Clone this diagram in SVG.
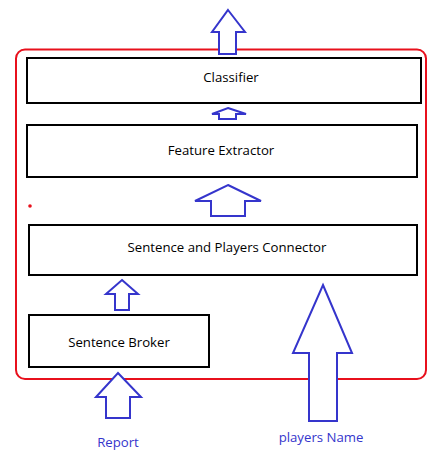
<svg xmlns="http://www.w3.org/2000/svg" width="436" height="453" viewBox="0 0 436 453">
<style>
.box{fill:#fff;stroke:#000;stroke-width:2}
.arr{fill:#fff;stroke:#3535cc;stroke-width:2;stroke-linejoin:miter}
.lbl{font-family:"Open Sans","Noto Sans",sans-serif;font-size:13.2px;fill:#000;text-anchor:middle}
.blue{font-family:"Open Sans","Noto Sans",sans-serif;font-size:13.2px;fill:#3535cc;text-anchor:middle}
</style>
<rect width="436" height="453" fill="#fff"/>
<rect id="container" x="16" y="49.5" width="410" height="329.5" rx="9" fill="none" stroke="#e8101c" stroke-width="2"/>
<circle cx="30" cy="206" r="1.8" fill="#e8101c"/>
<g id="classifier"><rect class="box" x="27" y="58" width="394" height="45"/><text class="lbl" x="231" y="81.5">Classifier</text></g>
<g id="feature-extractor"><rect class="box" x="27" y="125" width="390" height="52"/><text class="lbl" x="221" y="154.5">Feature Extractor</text></g>
<g id="connector"><rect class="box" x="29" y="225" width="388" height="50"/><text class="lbl" x="227" y="251.5">Sentence and Players Connector</text></g>
<g id="broker"><rect class="box" x="29" y="315" width="180" height="52"/><text class="lbl" x="119" y="346.5">Sentence Broker</text></g>
<g id="connectors">
<polygon class="arr" points="228,10 245,32 236,32 236,54 219,54 219,32 212,32"/>
<polygon class="arr" points="228,108 246,114 236,114 236,119 219,119 219,114 212,114"/>
<polygon class="arr" points="228,185 261,201 245,201 245,216 211,216 211,201 195,201"/>
<polygon class="arr" points="122,280 138,294 129,294 129,310 115,310 115,294 106,294"/>
<polygon class="arr" points="118,373 141,397 130,397 130,418 106,418 106,397 96,397"/>
<polygon class="arr" points="323,285 352,353 337,353 337,421 309,421 309,353 293,353"/>
</g>
<text id="report" class="blue" x="118" y="447">Report</text>
<text id="players-name" class="blue" x="321" y="441.5">players Name</text>
</svg>
